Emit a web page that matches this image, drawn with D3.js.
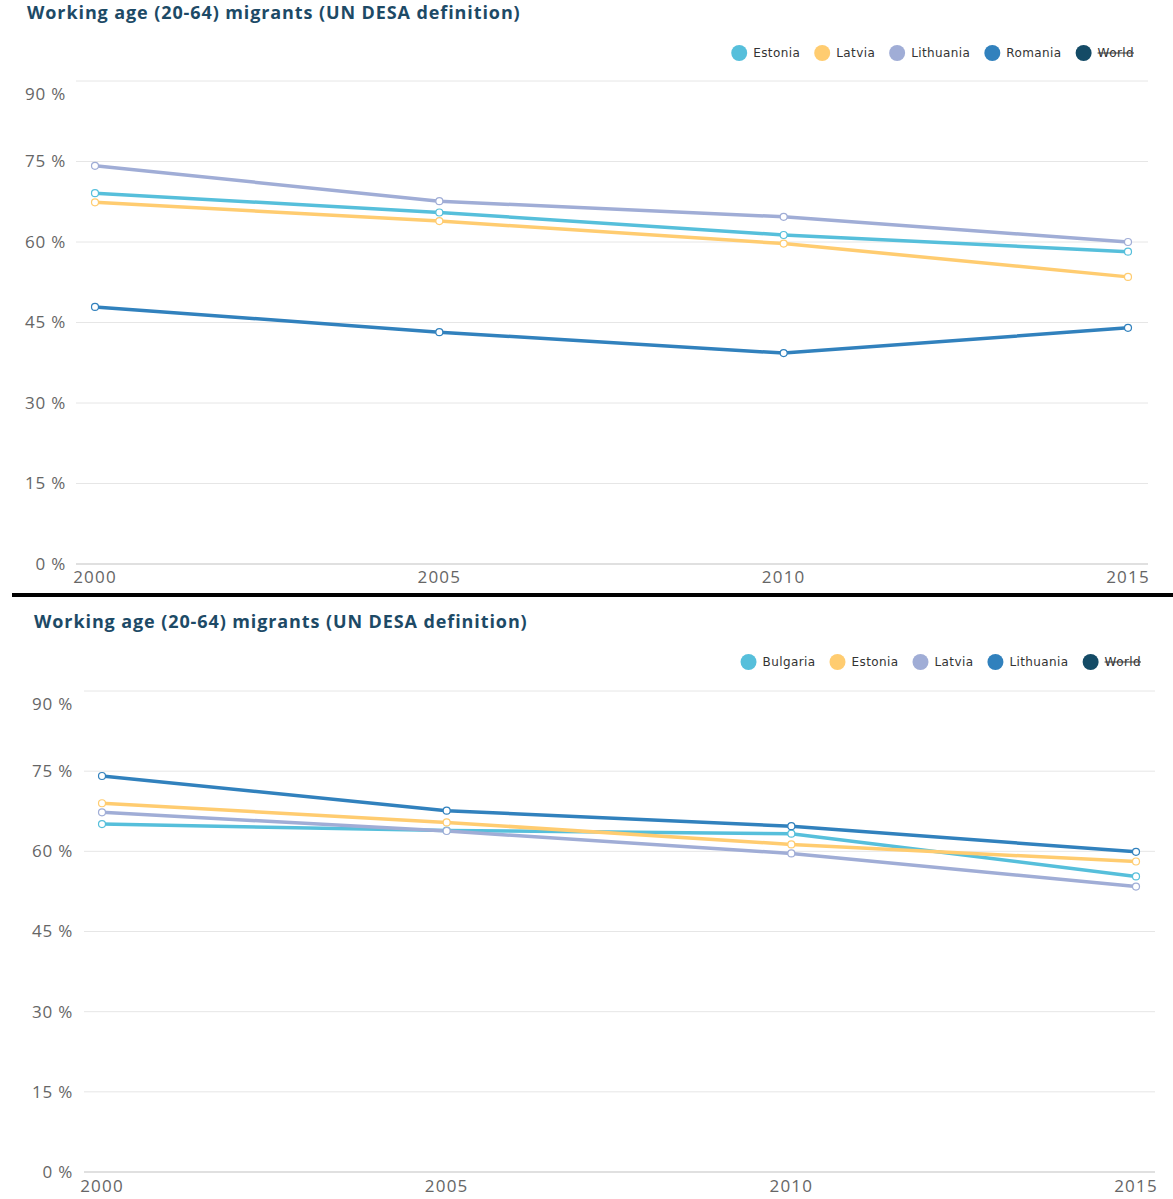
<!DOCTYPE html>
<html><head><meta charset="utf-8">
<script src="https://cdn.jsdelivr.net/npm/d3@7"></script>
<style>body{margin:0;background:#fff;} svg{display:block;}</style>
</head><body>
<svg id="chart" width="1173" height="1199"></svg>
<script>
const titleText = "Working age (20-64) migrants (UN DESA definition)";
const years = [2000, 2005, 2010, 2015];
const yTicks = [0, 15, 30, 45, 60, 75, 90];
const palette = ["#56bfdb", "#ffcc70", "#a0add6", "#3181bd", "#144b66"];

// Panel 1
const p1Names = ["Estonia", "Latvia", "Lithuania", "Romania", "World"];
const p1Estonia = [69.1, 65.5, 61.3, 58.2];
const p1Latvia = [67.4, 63.9, 59.7, 53.5];
const p1Lithuania = [74.2, 67.6, 64.7, 60.0];
const p1Romania = [47.9, 43.2, 39.3, 44.0];

// Panel 2
const p2Names = ["Bulgaria", "Estonia", "Latvia", "Lithuania", "World"];
const p2Bulgaria = [65.1, 63.9, 63.3, 55.3];
const p2Estonia = [69.0, 65.4, 61.3, 58.1];
const p2Latvia = [67.3, 63.8, 59.6, 53.4];
const p2Lithuania = [74.1, 67.6, 64.7, 59.9];

const svg = d3.select("#chart");

function drawPanel(cfg) {
  const g = svg.append("g");
  g.append("text").attr("x", cfg.titleX).attr("y", cfg.titleY)
    .attr("font-family", "Open Sans").attr("font-weight", "bold").attr("font-size", 18)
    .attr("letter-spacing", 0.9)
    .attr("fill", "#1d4a66").text(titleText);

  const x = d3.scaleLinear().domain([2000, 2015]).range([cfg.x0, cfg.x1]);
  const y = d3.scaleLinear().domain([0, 90]).range([cfg.yBottom, cfg.yTop]);

  g.selectAll("line.grid").data(yTicks).join("line")
    .attr("x1", cfg.gx0).attr("x2", cfg.gx1)
    .attr("y1", d => y(d)).attr("y2", d => y(d))
    .attr("stroke", d => d === 0 ? "#e0e0e0" : "#e6e6e6")
    .attr("stroke-width", d => d === 0 ? 2 : 1);

  g.selectAll("text.ylab").data(yTicks).join("text")
    .attr("x", cfg.labelRight).attr("y", d => y(d) + (d === 90 ? 13 : 0))
    .attr("dy", "0.35em").attr("text-anchor", "end")
    .attr("font-family", "Open Sans").attr("font-size", 17).attr("letter-spacing", 0.8)
    .attr("fill", "#666")
    .text(d => d + " %");

  g.selectAll("text.xlab").data(years).join("text")
    .attr("x", d => x(d)).attr("y", cfg.xLabelY).attr("dy", "0.35em")
    .attr("text-anchor", "middle")
    .attr("font-family", "Open Sans").attr("font-size", 17).attr("letter-spacing", 1.2)
    .attr("fill", "#666")
    .text(d => d);

  const line = d3.line().x((d, i) => x(years[i])).y(d => y(d));
  cfg.series.forEach((vals, si) => {
    g.append("path").datum(vals).attr("d", line)
      .attr("fill", "none").attr("stroke", palette[si]).attr("stroke-width", 3.5)
      .attr("stroke-linejoin", "round").attr("stroke-linecap", "round");
  });
  cfg.series.forEach((vals, si) => {
    g.selectAll(null).data(vals).join("circle")
      .attr("cx", (d, i) => x(years[i])).attr("cy", d => y(d)).attr("r", 3.5)
      .attr("fill", "#fff").attr("stroke", palette[si]).attr("stroke-width", 1.2);
  });

  const lg = g.append("g");
  const items = cfg.names.map((n, i) => {
    const it = lg.append("g");
    it.append("circle").attr("r", 8).attr("cx", 0).attr("cy", 0).attr("fill", palette[i]);
    const t = it.append("text").attr("x", 14).attr("y", 0).attr("dy", "0.35em")
      .attr("font-family", "DejaVu Sans").attr("font-size", 12).attr("letter-spacing", 0.4)
      .attr("fill", "#333")
      .text(n);
    const w = 14 + t.node().getComputedTextLength();
    return {it, w, world: n === "World", t};
  });
  const step = 22; // text end to next circle centre
  const total = d3.sum(items, d => d.w) + step * (items.length - 1);
  let cx = cfg.legendRight - total;
  items.forEach(d => {
    d.it.attr("transform", `translate(${cx},${cfg.legendY})`);
    if (d.world) {
      const tl = d.t.node().getComputedTextLength();
      d.it.append("line").attr("x1", 14).attr("x2", 14 + tl).attr("y1", 0).attr("y2", 0)
        .attr("stroke", "#333").attr("stroke-width", 1);
    }
    cx += d.w + step;
  });
}

drawPanel({
  titleX: 27, titleY: 19, names: p1Names,
  series: [p1Estonia, p1Latvia, p1Lithuania, p1Romania],
  x0: 95, x1: 1128, gx0: 76, gx1: 1148, yBottom: 564, yTop: 81,
  labelRight: 66, xLabelY: 577, legendRight: 1134, legendY: 53
});

svg.append("line").attr("x1", 12).attr("x2", 1173).attr("y1", 595).attr("y2", 595)
  .attr("stroke", "#000").attr("stroke-width", 4);

drawPanel({
  titleX: 34, titleY: 628, names: p2Names,
  series: [p2Bulgaria, p2Estonia, p2Latvia, p2Lithuania],
  x0: 102, x1: 1136, gx0: 84, gx1: 1155, yBottom: 1172, yTop: 691,
  labelRight: 73, xLabelY: 1186, legendRight: 1141, legendY: 662
});
</script>
</body></html>
